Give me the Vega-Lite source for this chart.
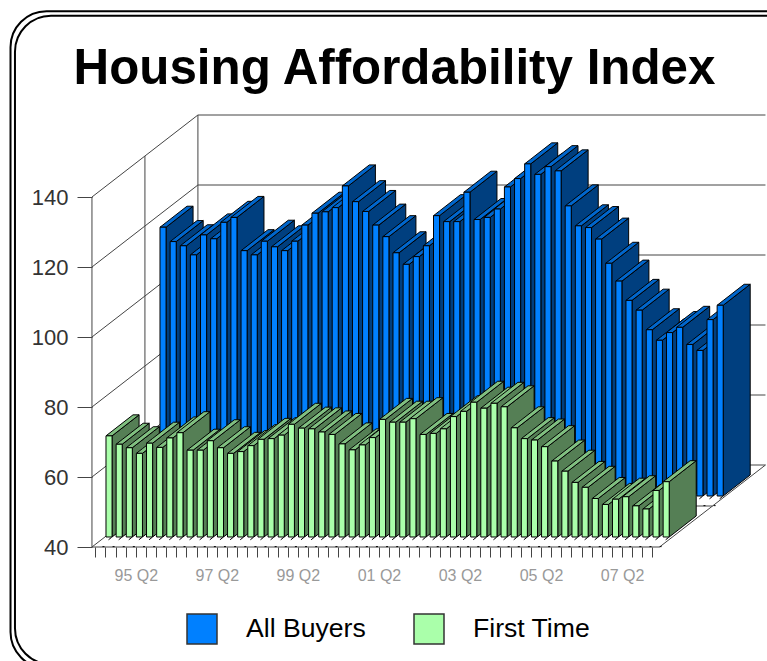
{"$schema":"https://vega.github.io/schema/vega-lite/v6.json","width":767,"height":661,"padding":0,"autosize":"none","background":"white","view":{"stroke":null},
"title":{"text":"Housing Affordability Index","font":"Liberation Sans","fontWeight":"bold","fontSize":49.3,"color":"#000","anchor":"middle","frame":"group","orient":"top","baseline":"alphabetic","offset":-85,"dx":11,"dy":48},
"config":{"font":"Liberation Sans"},
"datasets":{
"bars":[
{"series":"All Buyers","i":0,"quarter":"94 Q2","value":116.8},{"series":"All Buyers","i":1,"quarter":"94 Q3","value":112.7},{"series":"All Buyers","i":2,"quarter":"94 Q4","value":111.5},{"series":"All Buyers","i":3,"quarter":"95 Q1","value":108.9},{"series":"All Buyers","i":4,"quarter":"95 Q2","value":114.6},{"series":"All Buyers","i":5,"quarter":"95 Q3","value":113.5},{"series":"All Buyers","i":6,"quarter":"95 Q4","value":118.2},{"series":"All Buyers","i":7,"quarter":"96 Q1","value":119.6},{"series":"All Buyers","i":8,"quarter":"96 Q2","value":110.1},{"series":"All Buyers","i":9,"quarter":"96 Q3","value":108.9},
{"series":"All Buyers","i":10,"quarter":"96 Q4","value":112.8},{"series":"All Buyers","i":11,"quarter":"97 Q1","value":111.2},{"series":"All Buyers","i":12,"quarter":"97 Q2","value":110.1},{"series":"All Buyers","i":13,"quarter":"97 Q3","value":112.8},{"series":"All Buyers","i":14,"quarter":"97 Q4","value":117.4},{"series":"All Buyers","i":15,"quarter":"98 Q1","value":120.8},{"series":"All Buyers","i":16,"quarter":"98 Q2","value":121.2},{"series":"All Buyers","i":17,"quarter":"98 Q3","value":122.4},{"series":"All Buyers","i":18,"quarter":"98 Q4","value":128.6},{"series":"All Buyers","i":19,"quarter":"99 Q1","value":124.1},
{"series":"All Buyers","i":20,"quarter":"99 Q2","value":121.3},{"series":"All Buyers","i":21,"quarter":"99 Q3","value":117.4},{"series":"All Buyers","i":22,"quarter":"99 Q4","value":114.1},{"series":"All Buyers","i":23,"quarter":"00 Q1","value":109.5},{"series":"All Buyers","i":24,"quarter":"00 Q2","value":106.2},{"series":"All Buyers","i":25,"quarter":"00 Q3","value":108.4},{"series":"All Buyers","i":26,"quarter":"00 Q4","value":111.5},{"series":"All Buyers","i":27,"quarter":"01 Q1","value":120.1},{"series":"All Buyers","i":28,"quarter":"01 Q2","value":118.4},{"series":"All Buyers","i":29,"quarter":"01 Q3","value":118.4},
{"series":"All Buyers","i":30,"quarter":"01 Q4","value":126.8},{"series":"All Buyers","i":31,"quarter":"02 Q1","value":119.0},{"series":"All Buyers","i":32,"quarter":"02 Q2","value":119.6},{"series":"All Buyers","i":33,"quarter":"02 Q3","value":122},{"series":"All Buyers","i":34,"quarter":"02 Q4","value":128.3},{"series":"All Buyers","i":35,"quarter":"03 Q1","value":130.7},{"series":"All Buyers","i":36,"quarter":"03 Q2","value":134.9},{"series":"All Buyers","i":37,"quarter":"03 Q3","value":131.9},{"series":"All Buyers","i":38,"quarter":"03 Q4","value":134.1},{"series":"All Buyers","i":39,"quarter":"04 Q1","value":132.9},
{"series":"All Buyers","i":40,"quarter":"04 Q2","value":122.9},{"series":"All Buyers","i":41,"quarter":"04 Q3","value":117.2},{"series":"All Buyers","i":42,"quarter":"04 Q4","value":116.7},{"series":"All Buyers","i":43,"quarter":"05 Q1","value":113.4},{"series":"All Buyers","i":44,"quarter":"05 Q2","value":106.5},{"series":"All Buyers","i":45,"quarter":"05 Q3","value":101.4},{"series":"All Buyers","i":46,"quarter":"05 Q4","value":95.9},{"series":"All Buyers","i":47,"quarter":"06 Q1","value":93.1},{"series":"All Buyers","i":48,"quarter":"06 Q2","value":87.5},{"series":"All Buyers","i":49,"quarter":"06 Q3","value":84.5},
{"series":"All Buyers","i":50,"quarter":"06 Q4","value":86.7},{"series":"All Buyers","i":51,"quarter":"07 Q1","value":88.2},{"series":"All Buyers","i":52,"quarter":"07 Q2","value":83.3},{"series":"All Buyers","i":53,"quarter":"07 Q3","value":81.6},{"series":"All Buyers","i":54,"quarter":"07 Q4","value":90.4},{"series":"All Buyers","i":55,"quarter":"08 Q1","value":94.5},
{"series":"First Time","i":0,"quarter":"94 Q2","value":68.9},{"series":"First Time","i":1,"quarter":"94 Q3","value":66.5},{"series":"First Time","i":2,"quarter":"94 Q4","value":65.5},{"series":"First Time","i":3,"quarter":"95 Q1","value":63.9},{"series":"First Time","i":4,"quarter":"95 Q2","value":66.8},{"series":"First Time","i":5,"quarter":"95 Q3","value":65.6},{"series":"First Time","i":6,"quarter":"95 Q4","value":68.3},{"series":"First Time","i":7,"quarter":"96 Q1","value":69.8},{"series":"First Time","i":8,"quarter":"96 Q2","value":64.8},{"series":"First Time","i":9,"quarter":"96 Q3","value":64.8},
{"series":"First Time","i":10,"quarter":"96 Q4","value":67.5},{"series":"First Time","i":11,"quarter":"97 Q1","value":65.5},{"series":"First Time","i":12,"quarter":"97 Q2","value":63.9},{"series":"First Time","i":13,"quarter":"97 Q3","value":64.4},{"series":"First Time","i":14,"quarter":"97 Q4","value":66.1},{"series":"First Time","i":15,"quarter":"98 Q1","value":67.9},{"series":"First Time","i":16,"quarter":"98 Q2","value":68.1},{"series":"First Time","i":17,"quarter":"98 Q3","value":69.1},{"series":"First Time","i":18,"quarter":"98 Q4","value":72.2},{"series":"First Time","i":19,"quarter":"99 Q1","value":71.1},
{"series":"First Time","i":20,"quarter":"99 Q2","value":70.9},{"series":"First Time","i":21,"quarter":"99 Q3","value":70.0},{"series":"First Time","i":22,"quarter":"99 Q4","value":69.3},{"series":"First Time","i":23,"quarter":"00 Q1","value":66.6},{"series":"First Time","i":24,"quarter":"00 Q2","value":64.9},{"series":"First Time","i":25,"quarter":"00 Q3","value":66.3},{"series":"First Time","i":26,"quarter":"00 Q4","value":68.4},{"series":"First Time","i":27,"quarter":"01 Q1","value":73.6},{"series":"First Time","i":28,"quarter":"01 Q2","value":72.8},{"series":"First Time","i":29,"quarter":"01 Q3","value":72.8},
{"series":"First Time","i":30,"quarter":"01 Q4","value":73.8},{"series":"First Time","i":31,"quarter":"02 Q1","value":69.3},{"series":"First Time","i":32,"quarter":"02 Q2","value":69.6},{"series":"First Time","i":33,"quarter":"02 Q3","value":70.9},{"series":"First Time","i":34,"quarter":"02 Q4","value":74.4},{"series":"First Time","i":35,"quarter":"03 Q1","value":75.9},{"series":"First Time","i":36,"quarter":"03 Q2","value":78.5},{"series":"First Time","i":37,"quarter":"03 Q3","value":76.8},{"series":"First Time","i":38,"quarter":"03 Q4","value":78.2},{"series":"First Time","i":39,"quarter":"04 Q1","value":77.2},
{"series":"First Time","i":40,"quarter":"04 Q2","value":71.2},{"series":"First Time","i":41,"quarter":"04 Q3","value":68.1},{"series":"First Time","i":42,"quarter":"04 Q4","value":67.7},{"series":"First Time","i":43,"quarter":"05 Q1","value":65.8},{"series":"First Time","i":44,"quarter":"05 Q2","value":61.7},{"series":"First Time","i":45,"quarter":"05 Q3","value":58.8},{"series":"First Time","i":46,"quarter":"05 Q4","value":55.6},{"series":"First Time","i":47,"quarter":"06 Q1","value":54.2},{"series":"First Time","i":48,"quarter":"06 Q2","value":51.0},{"series":"First Time","i":49,"quarter":"06 Q3","value":49.3},
{"series":"First Time","i":50,"quarter":"06 Q4","value":50.8},{"series":"First Time","i":51,"quarter":"07 Q1","value":51.5},{"series":"First Time","i":52,"quarter":"07 Q2","value":48.9},{"series":"First Time","i":53,"quarter":"07 Q3","value":48},{"series":"First Time","i":54,"quarter":"07 Q4","value":53.3},{"series":"First Time","i":55,"quarter":"08 Q1","value":55.8}
],
"walls":[
{"q0":-0.33,"q1":55.7,"v0":40,"v1":40,"z0":1,"z1":1},{"q0":-0.33,"q1":55.7,"v0":60,"v1":60,"z0":1,"z1":1},{"q0":-0.33,"q1":55.7,"v0":80,"v1":80,"z0":1,"z1":1},{"q0":-0.33,"q1":55.7,"v0":100,"v1":100,"z0":1,"z1":1},{"q0":-0.33,"q1":55.7,"v0":120,"v1":120,"z0":1,"z1":1},{"q0":-0.33,"q1":55.7,"v0":140,"v1":140,"z0":1,"z1":1},
{"q0":-0.33,"q1":-0.33,"v0":40,"v1":40,"z0":0,"z1":1},{"q0":-0.33,"q1":-0.33,"v0":60,"v1":60,"z0":0,"z1":1},{"q0":-0.33,"q1":-0.33,"v0":80,"v1":80,"z0":0,"z1":1},{"q0":-0.33,"q1":-0.33,"v0":100,"v1":100,"z0":0,"z1":1},{"q0":-0.33,"q1":-0.33,"v0":120,"v1":120,"z0":0,"z1":1},{"q0":-0.33,"q1":-0.33,"v0":140,"v1":140,"z0":0,"z1":1},
{"q0":-0.33,"q1":-0.33,"v0":40,"v1":140,"z0":0,"z1":0},{"q0":-0.33,"q1":-0.33,"v0":40,"v1":140,"z0":0.5,"z1":0.5},{"q0":-0.33,"q1":-0.33,"v0":40,"v1":140,"z0":1,"z1":1},
{"q0":-0.33,"q1":55.7,"v0":40,"v1":40,"z0":0,"z1":0},{"q0":-0.33,"q1":55.7,"v0":40,"v1":40,"z0":0.5,"z1":0.5},{"q0":55.7,"q1":55.7,"v0":40,"v1":40,"z0":0,"z1":1}
],
"frame":[{"name":"outer","a":-8.37,"b":72,"lo":5.4,"hi":193.1},{"name":"inner","a":-7.93,"b":71,"lo":6.5,"hi":191.8}]
},
"data":{"name":"bars"},
"layer":[
{"data":{"name":"frame"},"mark":{"type":"rect","fill":null,"stroke":"#000","strokeWidth":2,"cornerRadius":36},
"encoding":{"x":{"field":"a","type":"quantitative","scale":{"domain":[-9.408,66.31],"nice":false,"zero":false},"axis":{"orient":"bottom","offset":-114,"tickCount":60,"values":[0,1,2,3,4,5,6,7,8,9,10,11,12,13,14,15,16,17,18,19,20,21,22,23,24,25,26,27,28,29,30,31,32,33,34,35,36,37,38,39,40,41,42,43,44,45,46,47,48,49,50,51,52,53,54,55],"labelExpr":"({4:'95 Q2',12:'97 Q2',20:'99 Q2',28:'01 Q2',36:'03 Q2',44:'05 Q2',52:'07 Q2'})[datum.value]||''","labelOverlap":false,"labelBound":false,"labelFlush":false,"labelAngle":0,"labelColor":"#999","labelFontSize":16,"labelPadding":10,"labelFont":"Liberation Sans","domain":false,"grid":false,"tickSize":10,"tickColor":"#444","title":null}},"x2":{"field":"b"},"y":{"field":"lo","type":"quantitative","scale":{"domain":[7.43,196.29],"nice":false,"zero":false},"axis":{"orient":"left","offset":-92,"values":[40,60,80,100,120,140],"domain":false,"grid":false,"tickSize":15,"tickColor":"#444","labelColor":"#333","labelFontSize":22,"labelPadding":9,"labelFont":"Liberation Sans","title":null}},"y2":{"field":"hi"}}},
{"data":{"name":"walls"},"transform":[{"calculate":"datum.q0+datum.z0*10.46","as":"x1"},{"calculate":"datum.q1+datum.z1*10.46","as":"x2"},{"calculate":"datum.v0+datum.z0*23.43","as":"y1"},{"calculate":"datum.v1+datum.z1*23.43","as":"y2"}],
"mark":{"type":"rule","color":"#444","strokeWidth":1},
"encoding":{"x":{"field":"x1","type":"quantitative","scale":{"domain":[-9.408,66.31],"nice":false,"zero":false}},"x2":{"field":"x2"},"y":{"field":"y1","type":"quantitative","scale":{"domain":[7.43,196.29],"nice":false,"zero":false}},"y2":{"field":"y2"}}},
{"transform":[
{"calculate":"datum.i+(datum.series=='All Buyers'?6.387:1.056)","as":"x0"},
{"calculate":"datum.series=='All Buyers'?54.57:42.86","as":"base"},
{"calculate":"[0,1]","as":"row"},{"flatten":["row"]},
{"calculate":"datum.row==0?datum.x0+0.55:datum.x0-0.35","as":"dx1"},
{"calculate":"datum.row==0?datum.x0+0.25:datum.x0-0.15","as":"dx2"},
{"calculate":"datum.row==0?datum.base-0.1:datum.base-2.75","as":"dy1"},
{"calculate":"datum.row==0?datum.base-0.8:datum.base-2.75","as":"dy2"}],
"mark":{"type":"rule","color":"#000","strokeWidth":1},
"encoding":{"x":{"field":"dx1","type":"quantitative","scale":{"domain":[-9.408,66.31],"nice":false,"zero":false}},"x2":{"field":"dx2"},"y":{"field":"dy1","type":"quantitative","scale":{"domain":[7.43,196.29],"nice":false,"zero":false}},"y2":{"field":"dy2"}}},
{"transform":[
{"calculate":"datum.i+(datum.series=='All Buyers'?6.387:1.056)","as":"x0"},
{"calculate":"datum.series=='All Buyers'?54.57:42.86","as":"base"},
{"calculate":"datum.base+datum.value-40","as":"h"},
{"calculate":"['side','top','front']","as":"face"},{"flatten":["face"]},
{"calculate":"datum.face=='top'?[0,1,2,3]:[0,1]","as":"t"},{"flatten":["t"]},
{"calculate":"datum.face=='front'?datum.x0+datum.t*0.6:datum.face=='side'?datum.x0+0.6+datum.t*2.665:[datum.x0,datum.x0+0.6,datum.x0+2.665,datum.x0+3.265][datum.t]","as":"px"},
{"calculate":"datum.face=='front'?datum.base:datum.face=='side'?datum.base+datum.t*6:datum.h+[0,0,6*(2.665-0.6)/2.665,6][datum.t]","as":"py"},
{"calculate":"datum.face=='front'?datum.h:datum.face=='side'?datum.h+datum.t*6:datum.h+[0,6*0.6/2.665,6,6][datum.t]","as":"py2"},
{"calculate":"datum.face=='front'?datum.series:datum.series+' '+datum.face","as":"part"},
{"calculate":"datum.series+'|'+datum.i+'|'+datum.face","as":"poly"}],
"mark":{"type":"area","stroke":"#000","strokeWidth":1,"strokeJoin":"miter","opacity":1,"interpolate":"linear"},
"encoding":{"x":{"field":"px","type":"quantitative","scale":{"domain":[-9.408,66.31],"nice":false,"zero":false}},"y":{"field":"py","type":"quantitative","stack":null,"scale":{"domain":[7.43,196.29],"nice":false,"zero":false}},"y2":{"field":"py2"},"detail":{"field":"poly"},
"color":{"field":"part","type":"nominal","scale":{"domain":["All Buyers","First Time","All Buyers side","All Buyers top","First Time side","First Time top"],"range":["#0080FF","#AAFFAA","#003F7F","#0066CC","#557F55","#80BF80"]},
"legend":{"values":["All Buyers","First Time"],"title":null,"orient":"none","legendX":186,"legendY":613,"direction":"horizontal","columns":2,"symbolType":"square","symbolSize":900,"symbolStrokeColor":"#333","symbolStrokeWidth":1.5,"symbolOpacity":1,"labelFontSize":26.6,"labelFont":"Liberation Sans","labelColor":"#000","labelOffset":28,"columnPadding":45,"labelLimit":200}}}}
]}
